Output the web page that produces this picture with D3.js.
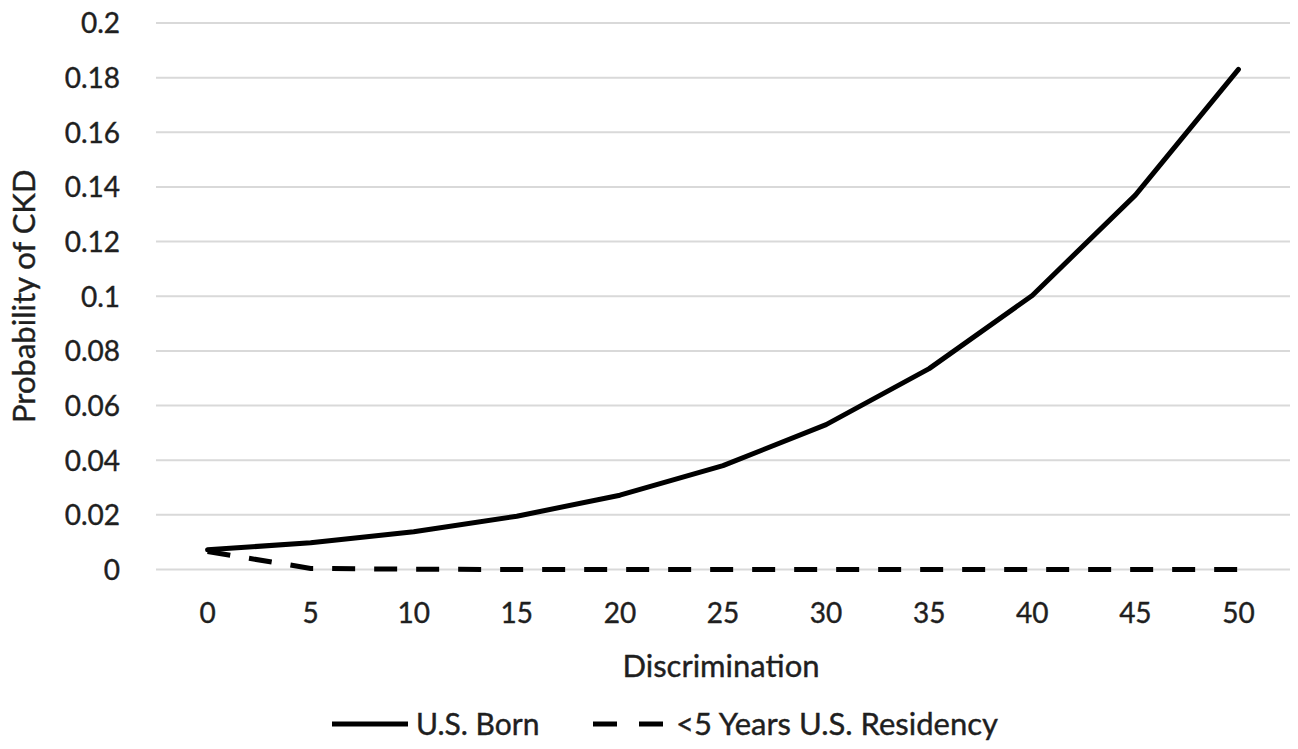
<!DOCTYPE html>
<html>
<head>
<meta charset="utf-8">
<script src="https://cdn.jsdelivr.net/npm/d3@7"></script>
<style>
  body { margin: 0; background: #fff; }
  text { font-family: Lato, "Open Sans", sans-serif; fill: #1f1f1f; stroke: #1f1f1f; stroke-width: 0.4px; }
</style>
</head>
<body>
<svg id="chart" width="1298" height="749"></svg>
<script>
// data
const discrimination = [0, 5, 10, 15, 20, 25, 30, 35, 40, 45, 50];
const usBorn = [0.0072, 0.0098, 0.0138, 0.0195, 0.0272, 0.038, 0.053, 0.0735, 0.1003, 0.137, 0.183];
const recentResidency = [0.0066, 0.0004, 0.0001, 0, 0, 0, 0, 0, 0, 0, 0];
const yTicks = [0, 0.02, 0.04, 0.06, 0.08, 0.1, 0.12, 0.14, 0.16, 0.18, 0.2];

const width = 1298, height = 749;
const margin = { top: 23, right: 8, bottom: 180, left: 156 };

const svg = d3.select("#chart");

const x = d3.scaleBand()
    .domain(discrimination)
    .range([margin.left, width - margin.right]);

const y = d3.scaleLinear()
    .domain([0, 0.2])
    .range([height - margin.bottom + 0.5, margin.top]);

const cx = d => x(d) + x.bandwidth() / 2;

// gridlines
svg.append("g")
    .selectAll("line")
    .data(yTicks)
    .join("line")
      .attr("x1", margin.left)
      .attr("x2", width - margin.right)
      .attr("y1", d => y(d))
      .attr("y2", d => y(d))
      .attr("stroke", "#d9d9d9")
      .attr("stroke-width", 2);

// y axis labels
svg.append("g")
    .attr("transform", `translate(${margin.left - 36},0)`)
    .call(d3.axisLeft(y).tickValues(yTicks).tickSize(0).tickPadding(0).tickFormat(d3.format("")))
    .call(g => g.select(".domain").remove())
    .call(g => g.selectAll("text")
        .attr("font-family", null)
        .attr("font-size", 28)
        .attr("fill", null)
        .attr("dy", "0.35em"));

// x axis labels
svg.append("g")
    .attr("transform", `translate(0,${y(0) + 44})`)
    .call(d3.axisBottom(x).tickSize(0).tickPadding(0))
    .call(g => g.select(".domain").remove())
    .call(g => g.selectAll("text")
        .attr("font-family", null)
        .attr("font-size", 28)
        .attr("fill", null)
        .attr("dy", "0.35em"));

const line = d3.line()
    .x((d, i) => cx(discrimination[i]))
    .y(d => y(d));

svg.append("path")
    .datum(recentResidency)
    .attr("fill", "none")
    .attr("stroke", "#000")
    .attr("stroke-width", 5)
    .attr("stroke-dasharray", "23,19")
    .attr("d", line);

svg.append("path")
    .datum(usBorn)
    .attr("fill", "none")
    .attr("stroke", "#000")
    .attr("stroke-width", 5)
    .attr("stroke-linecap", "round")
    .attr("stroke-linejoin", "round")
    .attr("d", line);

// axis titles
svg.append("text")
    .attr("transform", `translate(35,${(y(0) + y(0.2)) / 2}) rotate(-90)`)
    .attr("text-anchor", "middle")
    .attr("font-size", 31)
    .text("Probability of CKD");

svg.append("text")
    .attr("x", 721)
    .attr("y", 677)
    .attr("text-anchor", "middle")
    .attr("font-size", 31)
    .text("Discrimination");

// legend
const legend = svg.append("g").attr("transform", "translate(0,724)");
legend.append("line")
    .attr("x1", 332).attr("x2", 408)
    .attr("stroke", "#000").attr("stroke-width", 5);
legend.append("text")
    .attr("x", 416).attr("dy", "0.35em")
    .attr("font-size", 30)
    .text("U.S. Born");
legend.append("line")
    .attr("x1", 593).attr("x2", 663)
    .attr("stroke", "#000").attr("stroke-width", 5)
    .attr("stroke-dasharray", "24,22");
legend.append("text")
    .attr("x", 676).attr("dy", "0.35em")
    .attr("font-size", 31)
    .text("<5 Years U.S. Residency");
</script>
</body>
</html>
